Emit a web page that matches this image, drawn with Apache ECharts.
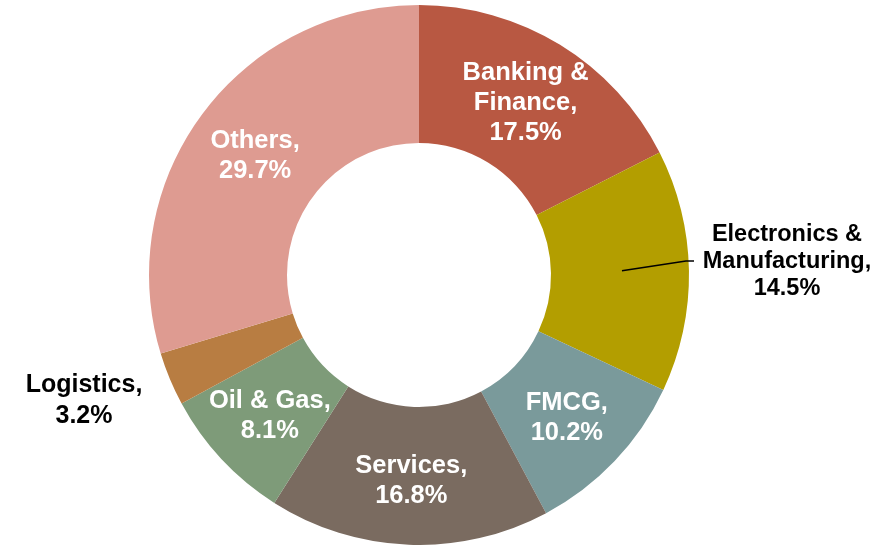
<!DOCTYPE html>
<html>
<head>
<meta charset="utf-8">
<script src="https://cdn.jsdelivr.net/npm/echarts@6/dist/echarts.min.js"></script>
<style>
  html, body { margin: 0; padding: 0; background: #fff; }
  #chart { width: 891px; height: 545px; }
</style>
</head>
<body>
<div id="chart"></div>
<script>
// 行业占比（%）
var sectors = ['Banking &\nFinance', 'Electronics &\nManufacturing', 'FMCG', 'Services', 'Oil & Gas', 'Logistics', 'Others'];
var shares = [17.5, 14.5, 10.2, 16.8, 8.1, 3.2, 29.7];
var colors = ['#B85842', '#B39E00', '#7A9A9B', '#7A6B60', '#7E9B79', '#B87D42', '#DE9B91'];
// 放在圆环外面的标签
var outside = ['Electronics &\nManufacturing', 'Logistics'];

var center = [419, 275];
var radius = [132, 270];

function buildData(){
    var data = [];
    for (var i = 0; i < sectors.length; i++) {
        var item = {
            name: sectors[i],
            value: shares[i],
            itemStyle: { color: colors[i] }
        };
        if (sectors[i] === 'Electronics &\nManufacturing') {
            item.label = { color: '#000', fontSize: 23.5, lineHeight: 27 };
        } else if (sectors[i] === 'Logistics') {
            item.label = { color: '#000', fontSize: 25, lineHeight: 31 };
        }
        data.push(item);
    }
    return data;
}

// 引导线：从扇区中间到标签左侧
function leaderLine(name){
    var total = 0, before = 0;
    for (var i = 0; i < shares.length; i++) total += shares[i];
    var idx = sectors.indexOf(name);
    for (var j = 0; j < idx; j++) before += shares[j];
    var ang = (before + shares[idx] / 2) / total * 2 * Math.PI;
    var r = (radius[0] + radius[1]) / 2 + 2;
    var sx = center[0] + r * Math.sin(ang);
    var sy = center[1] - r * Math.cos(ang);
    return [[sx, sy - 1], [686, 261], [694, 261]];
}

var option = {
    animation: false,
    series: [{
        type: 'pie',
        center: center,
        radius: radius,
        startAngle: 90,
        clockwise: true,
        data: buildData(),
        label: {
            show: true,
            position: 'inside',
            color: '#fff',
            fontFamily: 'Liberation Sans, Arial, sans-serif',
            fontWeight: 'bold',
            fontSize: 25.5,
            lineHeight: 30,
            align: 'center',
            formatter: function (p) {
                return p.name + ',\n' + p.value.toFixed(1) + '%';
            }
        },
        labelLine: { show: false },
        labelLayout: function (params) {
            var idx = params.dataIndex;
            if (sectors[idx] === 'Electronics &\nManufacturing') {
                return { x: 787, y: 262, align: 'center', verticalAlign: 'middle' };
            }
            if (sectors[idx] === 'Logistics') {
                return { x: 84, y: 401, align: 'center', verticalAlign: 'middle' };
            }
            return { dy: 2 };
        }
    }],
    graphic: [{
        type: 'polyline',
        z: 100,
        shape: { points: leaderLine('Electronics &\nManufacturing') },
        style: { stroke: '#000', lineWidth: 1.5, fill: null }
    }]
};

var chart = echarts.init(document.getElementById('chart'));
chart.setOption(option);
</script>
</body>
</html>
